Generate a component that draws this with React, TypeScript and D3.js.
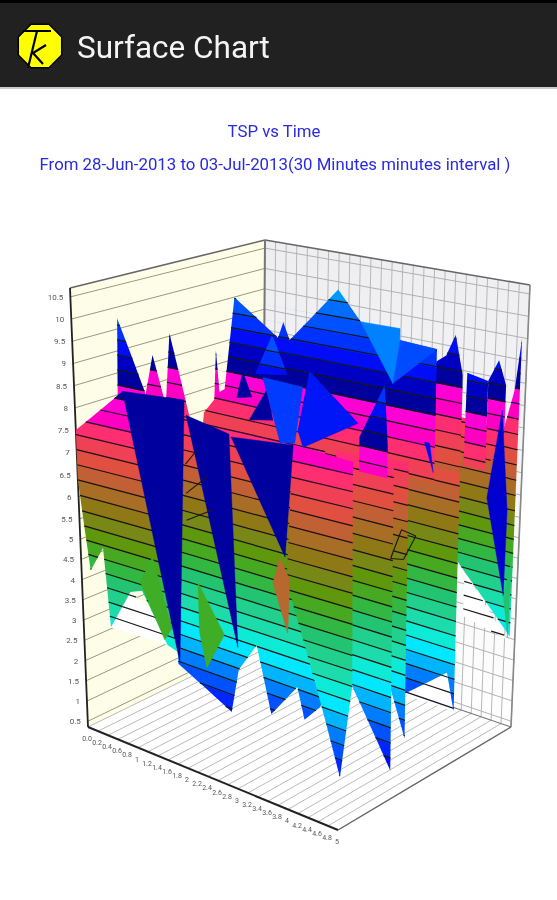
import React, { useMemo } from "react";
import * as d3 from "d3";

// ---------- text ----------
const appTitle = "Surface Chart";
const chartTitle = "TSP vs Time";
const chartSubtitle = "From 28-Jun-2013 to 03-Jul-2013(30 Minutes minutes interval )";

// ---------- axes ----------
const valueTicks = d3.range(0.5, 10.51, 0.5);
const xTicks = d3.range(0, 5.01, 0.2);
const bandStep = 0.34;
const bandBase = 7.4;

// ---------- colour ramp (value -> colour) ----------
const rampValues = [0.8, 1.3, 1.7, 2.1, 2.5, 2.9, 3.15, 3.5, 4.2, 4.7, 5.2, 5.9, 6.5, 6.9, 7.55, 7.8, 8.42, 8.43, 8.9, 9.25, 9.6, 10, 10.3, 10.7];
const rampColors = ["#0000e6", "#0014ff", "#0046ff", "#0078ff", "#00b9ff", "#00f5ff", "#0febd7", "#1edcaa", "#23c36e", "#3caf28", "#5f960f", "#917819", "#be6432", "#e15041", "#ff3269", "#ff00be", "#ff00dc", "#00008c", "#0000be", "#000ff5", "#0032ff", "#0055ff", "#006eff", "#00a0ff"];

// ---------- surface rows: x along the time axis, value on the vertical axis ----------
const patchFarX = [4.07, 4.07, 4.95];
const patchFarV = [3.9, 2.8, 2.55];
const rowFarX = [4.07, 3.8, 3.8, 4.73, 4.9, 5, 5];
const rowFarV = [3.9, 4.3, 7.5, 7.49, 8.36, 9.54, 2.65];
const ridge45X = [4.64, 4.64, 4.83, 4.98, 4.98];
const ridge45V = [6.8, 8.6, 9.1, 8.58, 7.0];
const ridge41X = [4.5, 4.52, 4.92, 4.92];
const ridge41V = [6.8, 8.85, 8.76, 6.8];
const patchLowX = [4, 4.85, 5];
const patchLowV = [1.55, 2.4, 1.55];
const row33X = [4, 4, 5, 5, 4.85];
const row33V = [1.55, 7.2, 7.2, 1.55, 2.4];
const ridge33X = [4.2, 4.2, 4.68, 4.85, 5, 5];
const ridge33V = [7, 9.0, 9.45, 9.93, 9.1, 7];
const backX = [0.55, 0.58, 0.78, 0.82, 0.88, 0.98, 1.18, 2.0, 2.1, 2.22, 3.13, 3.56, 4.3, 5, 5];
const backV = [7, 7.35, 7.7, 8.85, 7.9, 8.0, 10.15, 9.41, 9.78, 9.41, 10.72, 10.1, 9.85, 9.8, 7];
const row19X = [4.2, 5, 5, 4.72, 4.2];
const row19V = [7.6, 7.6, 1.55, 2.53, 4];
const row15X = [3.9, 5, 5, 4.24, 3.9];
const row15V = [7.7, 7.7, 1, 2.58, 4];
const spikeAX = [0.3, 0.35, 0.85, 0.85];
const spikeAV = [7.5, 9.93, 8.35, 7.5];
const spikeBX = [0.85, 0.85, 1.0, 1.23, 1.23];
const spikeBV = [7.5, 8.35, 9.25, 8.2, 7.5];
const spikeCX = [1.23, 1.23, 1.33, 1.68, 1.68];
const spikeCV = [7.5, 8.2, 9.8, 8.04, 7.5];
const row12X = [1.0, 3.9, 3.9, 3.8, 3.5, 3.36, 2.84, 2.56, 2.2, 2.05, 1.0];
const row12V = [7.75, 7.75, 2.3, 2.06, 1.65, 2.35, 1.5, 3, 2.27, 1.2, 1.9];
const row04X = [3.86, 5, 5, 4.76, 4.4, 3.72];
const row04V = [8.08, 8, 3.33, 1.23, 2.64, 5.2];
const patchLeftX = [0.54, 0.95, 1.6, 1.65];
const patchLeftV = [3.06, 4.08, 3.6, 3.1];
const rowNearX = [0, 0.92, 1.95, 1.9, 1.65, 1.18, 0.95, 0.54, 0.44, 0.18, 0];
const rowNearV = [7.5, 8.6, 8.3, 3, 3.1, 4.2, 4.08, 3.06, 4.95, 4.3, 6.38];
const towerX = [3.56, 3.56, 4.03, 4.1, 4.1];
const towerV = [6.85, 7.6, 8.83, 7.55, 6.85];
const capX = [1.89, 1.56, 2.18];
const capV = [9.45, 8.49, 8.62];

// ---------- single-tone facets ----------
const navyAX = [0.92, 2.09, 1.89];
const navyAV = [8.6, 8.69, 2.78];
const navyBX = [2.12, 2.93, 3.04];
const navyBV = [8.37, 8.17, 3.6];
const navyCX = [2.97, 4.15, 3.98];
const navyCV = [8.12, 8.23, 5.92];
const greenAX = [1.4, 1.15, 1.6, 1.75];
const greenAV = [5.09, 4.39, 3.2, 3.54];
const greenBX = [2.28, 2.78, 2.42, 2.29];
const greenBV = [4.8, 3.79, 2.88, 3.66];
const brownX = [3.88, 3.74, 4.02, 4.07];
const brownV = [5.89, 5.3, 4.28, 5.47];
const smallAX = [1.33, 1.21, 1.5];
const smallAV = [8.48, 7.86, 7.95];
const smallBX = [1.79, 1.45, 1.9];
const smallBV = [8.2, 7.42, 7.53];
const blueAX = [1.71, 2.47, 2.32, 2.04];
const blueAV = [8.45, 8.42, 7.13, 7.06];
const blueBX = [2.6, 3.53, 2.48, 2.38];
const blueBV = [8.8, 7.89, 7.08, 7.43];
const azureAX = [3.56, 4.3, 4.3, 4.18];
const azureAV = [10.1, 10.1, 9.85, 8.9];
const azureBX = [4.3, 5, 4.18];
const azureBV = [9.85, 9.8, 8.9];
const sliverX = [4.8, 4.9, 4.98];
const sliverV = [7.8, 7.8, 7.2];
const bladeX = [4.68, 4.45, 4.84, 4.85];
const bladeV = [7.86, 5.83, 3.59, 5.66];
const tipX = [4.96, 4.84, 4.98];
const tipV = [2.6, 3.59, 4.5];

// ---------- loose mesh edges ----------
const edgesMidX = [[1.22, 1.46], [1.22, 1.64], [1.22, 1.7]];
const edgesMidV = [[6.75, 7.15], [6.1, 6.6], [5.5, 5.87]];
const edgesRightX = [[3.7, 3.9], [3.9, 4.18], [4.18, 3.95], [3.95, 3.7]];
const edgesRightV = [[4.7, 5.46], [5.46, 5.4], [5.4, 4.76], [4.76, 4.7]];

type Layer = { z: number; xs: number[]; vs: number[]; shift?: number; tone?: number; linesOnly?: boolean };

const layers: Layer[] = [
  { z: 4.85, xs: patchFarX, vs: patchFarV, linesOnly: true },
  { z: 4.85, xs: rowFarX, vs: rowFarV },
  { z: 4.5, xs: ridge45X, vs: ridge45V, shift: 0.2 },
  { z: 4.1, xs: ridge41X, vs: ridge41V, shift: 0.42 },
  { z: 3.3, xs: patchLowX, vs: patchLowV, linesOnly: true },
  { z: 3.3, xs: row33X, vs: row33V },
  { z: 3.3, xs: ridge33X, vs: ridge33V, shift: -0.41 },
  { z: 2.6, xs: backX, vs: backV },
  { z: 1.9, xs: row19X, vs: row19V },
  { z: 1.5, xs: row15X, vs: row15V },
  { z: 0.7, xs: spikeAX, vs: spikeAV },
  { z: 0.7, xs: spikeBX, vs: spikeBV, shift: -0.5 },
  { z: 0.7, xs: spikeCX, vs: spikeCV, shift: -0.63 },
  { z: 1.2, xs: row12X, vs: row12V },
  { z: 0.4, xs: row04X, vs: row04V },
  { z: 0, xs: patchLeftX, vs: patchLeftV, linesOnly: true },
  { z: 0, xs: rowNearX, vs: rowNearV },
  { z: 0, xs: brownX, vs: brownV, tone: 6.4 },
  { z: 0, xs: greenAX, vs: greenAV, tone: 4.75 },
  { z: 0, xs: greenBX, vs: greenBV, tone: 4.75 },
  { z: 0, xs: navyAX, vs: navyAV, tone: 8.6 },
  { z: 0, xs: navyBX, vs: navyBV, tone: 8.6 },
  { z: 0, xs: navyCX, vs: navyCV, tone: 8.6 },
  { z: 2.6, xs: smallAX, vs: smallAV, tone: 8.6 },
  { z: 2.6, xs: smallBX, vs: smallBV, tone: 8.6 },
  { z: 2.6, xs: capX, vs: capV, shift: 0.7 },
  { z: 2.6, xs: azureBX, vs: azureBV, tone: 9.9 },
  { z: 2.6, xs: azureAX, vs: azureAV, tone: 10.45 },
  { z: 2.6, xs: blueBX, vs: blueBV, tone: 9.3 },
  { z: 2.6, xs: blueAX, vs: blueAV, tone: 9.7 },
  { z: 2.6, xs: towerX, vs: towerV, shift: 1 },
  { z: 2.6, xs: sliverX, vs: sliverV, tone: 9.2 },
  { z: 4.85, xs: tipX, vs: tipV, tone: 4.2 },
  { z: 4.85, xs: bladeX, vs: bladeV, tone: 9.0 },
];

// ---------- box geometry ----------
const vBottom = 0.36;
const vTop = 10.7;
const cornerX = { A: 88, B: 338, C: 511, D: 262 };
const cornerY = { A: 727, B: 830, C: 727, D: 642 };
const cornerH = { A: 439, B: 500, C: 442, D: 402 };
const cornerLean = { A: -18, B: 0, C: 19, D: 3 };

const aScale = d3.scaleLinear().domain([0, 5]).range([0, 1]);
const bScale = d3.scaleLinear().domain([0, 5]).range([0, 1]);
const tScale = d3.scaleLinear().domain([vBottom, 5.5, vTop]).range([0, 0.474, 1]);
const colorScale = d3.scaleLinear<string>().domain(rampValues).range(rampColors).interpolate(d3.interpolateRgb).clamp(true);

function bi(c: { A: number; B: number; C: number; D: number }, a: number, b: number) {
  return c.A * (1 - a) * (1 - b) + c.B * a * (1 - b) + c.C * a * b + c.D * (1 - a) * b;
}
function project(x: number, z: number, v: number): [number, number] {
  const a = aScale(x), b = bScale(z), t = tScale(v);
  return [bi(cornerX, a, b) + bi(cornerLean, a, b) * t, bi(cornerY, a, b) - bi(cornerH, a, b) * t];
}

type P = [number, number];
function clip(poly: P[], level: number, keepAbove: boolean): P[] {
  const out: P[] = [];
  for (let i = 0; i < poly.length; i++) {
    const p = poly[i], q = poly[(i + 1) % poly.length];
    const pin = keepAbove ? p[1] >= level : p[1] <= level;
    const qin = keepAbove ? q[1] >= level : q[1] <= level;
    if (pin) out.push(p);
    if (pin !== qin) {
      const f = (level - p[1]) / (q[1] - p[1]);
      out.push([p[0] + (q[0] - p[0]) * f, level]);
    }
  }
  return out;
}
function crossings(poly: P[], level: number): number[] {
  const xs: number[] = [];
  for (let i = 0; i < poly.length; i++) {
    const p = poly[i], q = poly[(i + 1) % poly.length];
    if ((p[1] < level) !== (q[1] < level)) xs.push(p[0] + ((level - p[1]) / (q[1] - p[1])) * (q[0] - p[0]));
  }
  return xs.sort((m, n) => m - n);
}

const lineGen = d3.line<P>().x((d) => d[0]).y((d) => d[1]);

function buildMarks() {
  const marks: { d: string; fill: string; stroke: string; sw: number }[] = [];
  for (const lay of layers) {
    const toScreen = (x: number, v: number) => project(x, lay.z, v);
    if (lay.tone !== undefined) {
      const pts = lay.xs.map((x, i) => toScreen(x, lay.vs[i]));
      const c = colorScale(lay.tone);
      marks.push({ d: lineGen(pts) + "Z", fill: c, stroke: c, sw: 0.4 });
      continue;
    }
    const s = lay.shift ?? 0;
    const poly: P[] = lay.xs.map((x, i) => [x, lay.vs[i] + s]);
    if (lay.linesOnly) {
      marks.push({ d: lineGen(lay.xs.map((x, i) => toScreen(x, lay.vs[i]))) + "Z", fill: "#ffffff", stroke: "none", sw: 0 });
    } else {
      const minV = d3.min(poly, (p) => p[1])!;
      const maxV = d3.max(poly, (p) => p[1])!;
      const k0 = Math.floor((minV - bandBase) / bandStep);
      const k1 = Math.ceil((maxV - bandBase) / bandStep);
      for (let k = k0; k < k1; k++) {
        const lo = bandBase + k * bandStep;
        const hi = lo + bandStep;
        const band = clip(clip(poly, lo - 0.02, true), hi, false);
        if (band.length < 3) continue;
        const pts = band.map((p) => toScreen(p[0], p[1] - s));
        const c = colorScale(lo + bandStep / 2);
        marks.push({ d: lineGen(pts) + "Z", fill: c, stroke: "none", sw: 0 });
      }
    }
    const minV = d3.min(poly, (p) => p[1])!;
    const maxV = d3.max(poly, (p) => p[1])!;
    const k0 = Math.ceil((minV - bandBase) / bandStep);
    const k1 = Math.floor((maxV - bandBase) / bandStep);
    for (let k = k0; k <= k1; k++) {
      const level = bandBase + k * bandStep;
      const xs = crossings(poly, level);
      for (let i = 0; i + 1 < xs.length; i += 2) {
        const pts = [toScreen(xs[i], level - s), toScreen(xs[i + 1], level - s)];
        marks.push({ d: lineGen(pts)!, fill: "none", stroke: "#141414", sw: 1.2 });
      }
    }
  }
  return marks;
}

const seg = (p: P, q: P) => lineGen([p, q])!;

function edgePaths(xs: number[][], vs: number[][], z: number) {
  return xs.map((pair, i) => seg(project(pair[0], z, vs[i][0]), project(pair[1], z, vs[i][1])));
}

export default function App() {
  const marks = useMemo(buildMarks, []);

  const leftWall = [project(0, 0, vBottom), project(0, 5, vBottom), project(0, 5, vTop), project(0, 0, vTop)] as P[];
  const rightWall = [project(0, 5, vBottom), project(5, 5, vBottom), project(5, 5, vTop), project(0, 5, vTop)] as P[];
  const floor = [project(0, 0, vBottom), project(5, 0, vBottom), project(5, 5, vBottom), project(0, 5, vBottom)] as P[];

  const octagon = d3.range(8).map((i) => {
    const ang = Math.PI / 8 + (i * Math.PI) / 4;
    return [40 + 23.5 * Math.cos(ang), 46 + 23.5 * Math.sin(ang)] as P;
  });

  return (
    <svg width={557} height={900} style={{ position: "absolute", left: 0, top: 0, background: "#fff" }}>
      <defs>
        <filter id="soft" x="-5%" y="-5%" width="110%" height="110%">
          <feGaussianBlur stdDeviation="0.45" />
        </filter>
        <linearGradient id="rw" x1="0" y1="0" x2="0" y2="1">
          <stop offset="0" stopColor="#eeeef1" />
          <stop offset="0.55" stopColor="#f6f6f7" />
          <stop offset="1" stopColor="#ffffff" />
        </linearGradient>
      </defs>

      <rect x={0} y={0} width={557} height={87} fill="#212121" />
      <rect x={0} y={0} width={557} height={3} fill="#000" />
      <rect x={0} y={87} width={557} height={2} fill="#9a9a9a" opacity={0.5} />
      <g filter="url(#soft)">
        <path d={lineGen(octagon) + "Z"} fill="#ffff00" stroke="#000" strokeWidth={1.5} />
        <path d="M23 31H51M37 31L28 68M46 45L33 53L43 64" fill="none" stroke="#000" strokeWidth={2.2} />
      </g>
      <text x={77} y={58} fontFamily="Roboto" fontSize={31.5} fill="#f4f4f4" filter="url(#soft)">{appTitle}</text>

      <text x={274} y={137} textAnchor="middle" fontFamily="Roboto" fontSize={16.8} fill="#2a2ae0" filter="url(#soft)">{chartTitle}</text>
      <text x={275} y={170} textAnchor="middle" fontFamily="Roboto" fontSize={16.8} fill="#2a2ae0" filter="url(#soft)">{chartSubtitle}</text>

      <g filter="url(#soft)">
        <path d={lineGen(leftWall) + "Z"} fill="#fefde8" />
        <path d={lineGen(rightWall) + "Z"} fill="url(#rw)" />
        <path d={lineGen(floor) + "Z"} fill="#ffffff" />

        {valueTicks.map((v) => (
          <path key={"l" + v} d={seg(project(0, 0, v), project(0, 5, v))} stroke="#9a9a80" strokeWidth={1} fill="none" />
        ))}
        {valueTicks.map((v) => (
          <path key={"r" + v} d={seg(project(0, 5, v), project(5, 5, v))} stroke="#a8a8a8" strokeWidth={0.9} fill="none" />
        ))}
        {xTicks.map((x) => (
          <path key={"w" + x} d={seg(project(x, 5, vBottom), project(x, 5, vTop))} stroke="#b0b0b0" strokeWidth={0.9} fill="none" />
        ))}
        {xTicks.map((x) => (
          <path key={"f" + x} d={seg(project(x, 0, vBottom), project(x, 5, vBottom))} stroke="#a8a8a8" strokeWidth={0.8} fill="none" />
        ))}

        <path d={seg(project(0, 0, vTop), project(0, 5, vTop))} stroke="#666" strokeWidth={1.6} fill="none" />
        <path d={seg(project(0, 5, vTop), project(5, 5, vTop))} stroke="#666" strokeWidth={1.6} fill="none" />
        <path d={seg(project(0, 5, vBottom), project(0, 5, vTop))} stroke="#777" strokeWidth={2} fill="none" />
        <path d={seg(project(5, 5, vBottom), project(5, 5, vTop))} stroke="#888" strokeWidth={1.6} fill="none" />
        <path d={seg(project(0, 5, vBottom), project(5, 5, vBottom))} stroke="#777" strokeWidth={1.2} fill="none" />
        <path d={seg(project(5, 0, vBottom), project(5, 5, vBottom))} stroke="#666" strokeWidth={1.4} fill="none" />
        <path d={seg(project(0, 0, vBottom), project(0, 0, vTop))} stroke="#222" strokeWidth={1.8} fill="none" />
        <path d={seg(project(0, 0, vBottom), project(5, 0, vBottom))} stroke="#222" strokeWidth={2} fill="none" />

        {marks.map((m, i) => (
          <path key={i} d={m.d} fill={m.fill} stroke={m.stroke} strokeWidth={m.sw} strokeLinejoin="round" />
        ))}
        {edgePaths(edgesMidX, edgesMidV, 1.2).concat(edgePaths(edgesRightX, edgesRightV, 3.3)).map((d, i) => (
          <path key={"e" + i} d={d} fill="none" stroke="#1a1a1a" strokeWidth={1.1} />
        ))}

        {valueTicks.map((v) => {
          const [px, py] = project(0, 0, v);
          return (
            <text key={"vt" + v} x={px - 7} y={py + 3} textAnchor="end" fontFamily="Roboto" fontSize={8} fill="#555">
              {d3.format("~g")(+v.toFixed(1))}
            </text>
          );
        })}
        {xTicks.map((x, i) => {
          const [px, py] = project(x, 0, vBottom);
          return (
            <text key={"xt" + i} x={px - 1} y={py + 14} textAnchor="middle" fontFamily="Roboto" fontSize={7} fill="#555">
              {i === 0 ? "0.0" : d3.format("~g")(+x.toFixed(1))}
            </text>
          );
        })}
      </g>
    </svg>
  );
}
